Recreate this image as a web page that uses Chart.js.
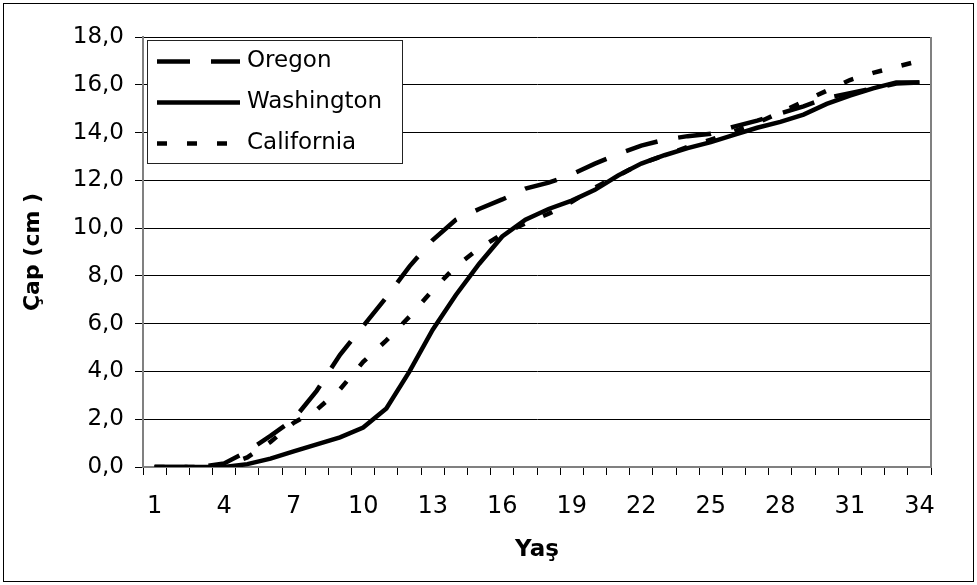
<!DOCTYPE html>
<html>
<head>
<meta charset="utf-8">
<script src="https://cdn.jsdelivr.net/npm/chart.js@4.4.1/dist/chart.umd.min.js"></script>
<style>
  body { margin: 0; background: #fff; }
  #kutu { width: 977px; height: 585px; }
</style>
</head>
<body>
<div id="kutu"><canvas id="grafik" width="977" height="585"></canvas></div>
<script>
// Yaş (x ekseni)
const yaslar = ['1','2','3','4','5','6','7','8','9','10','11','12','13','14','15','16','17',
  '18','19','20','21','22','23','24','25','26','27','28','29','30','31','32','33','34'];

// Çap (cm)
const oregon = [0, 0, 0, 0.15, 0.65, 1.3, 2.0, 3.2, 4.7, 5.9, 7.1, 8.4, 9.5, 10.35, 10.8, 11.2, 11.65,
  11.9, 12.25, 12.7, 13.1, 13.45, 13.7, 13.85, 13.95, 14.25, 14.5, 14.8, 15.1, 15.45, 15.65, 15.85, 16.05, 16.1];
const washington = [0, 0, 0, 0, 0.12, 0.35, 0.65, 0.95, 1.24, 1.65, 2.45, 4.0, 5.75, 7.2, 8.5, 9.65, 10.35,
  10.8, 11.15, 11.6, 12.2, 12.7, 13.05, 13.35, 13.6, 13.9, 14.2, 14.45, 14.75, 15.2, 15.55, 15.85, 16.1, 16.1];
const california = [0, 0, 0, 0.05, 0.4, 1.05, 1.85, 2.4, 3.25, 4.4, 5.3, 6.3, 7.4, 8.4, 9.15, 9.75, 10.2,
  10.6, 11.1, 11.7, 12.2, 12.7, 13.05, 13.4, 13.7, 14.05, 14.4, 14.85, 15.3, 15.75, 16.2, 16.5, 16.75, 17.0];

const yazi = '"DejaVu Sans", sans-serif';
Chart.defaults.font.family = yazi;
Chart.defaults.color = '#000';

// arka plan, dış çerçeve, sağ kenar ve lejant
const cerceve = {
  id: 'cerceve',
  beforeDraw(chart) {
    const c = chart.ctx;
    c.save();
    c.fillStyle = '#fff';
    c.fillRect(0, 0, chart.width, chart.height);
    c.strokeStyle = '#000';
    c.lineWidth = 1;
    c.strokeRect(3.5, 3.5, chart.width - 7, chart.height - 7);
    c.restore();
  },
  afterDraw(chart) {
    const a = chart.chartArea;
    const c = chart.ctx;
    c.save();
    c.strokeStyle = '#808080';
    c.lineWidth = 2;
    c.beginPath();
    c.moveTo(a.right, a.top);
    c.lineTo(a.right, a.bottom);
    c.stroke();

    const x = a.left + 4, y = a.top + 3, w = 255, h = 123;
    c.fillStyle = '#fff';
    c.fillRect(x, y, w, h);
    c.strokeStyle = '#222';
    c.lineWidth = 1;
    c.strokeRect(x + 0.5, y + 0.5, w, h);
    chart.data.datasets.forEach((ds, i) => {
      const ly = y + 21.5 + i * 41;
      c.setLineDash(ds.borderDash || []);
      c.lineWidth = ds.borderWidth;
      c.strokeStyle = ds.borderColor;
      c.beginPath();
      c.moveTo(x + 10, ly);
      c.lineTo(x + 93, ly);
      c.stroke();
      c.setLineDash([]);
      c.fillStyle = '#000';
      c.font = '23px ' + yazi;
      c.textBaseline = 'middle';
      c.textAlign = 'left';
      c.fillText(ds.label, x + 100, ly);
    });
    c.restore();
  }
};

function seri(label, data, dash, order) {
  return {
    label: label,
    data: data,
    borderColor: '#000',
    backgroundColor: '#000',
    borderWidth: 4.5,
    borderDash: dash,
    borderCapStyle: 'butt',
    pointRadius: 0,
    tension: 0,
    fill: false,
    order: order
  };
}

new Chart(document.getElementById('grafik').getContext('2d'), {
  type: 'line',
  data: {
    labels: yaslar,
    datasets: [
      seri('Oregon', oregon, [33, 21], 3),
      seri('Washington', washington, [], 2),
      seri('California', california, [10, 20], 1)
    ]
  },
  options: {
    responsive: false,
    animation: false,
    layout: { padding: { left: 0, top: 37, right: 46, bottom: 0 } },
    plugins: {
      legend: { display: false },
      tooltip: { enabled: false }
    },
    scales: {
      x: {
        offset: true,
        afterFit(s) { s.height = 118; },
        grid: { display: true, offset: true, drawOnChartArea: false, drawTicks: true, tickLength: 8, color: '#000', lineWidth: 1 },
        border: { display: true, color: '#808080', width: 2 },
        ticks: {
          autoSkip: false,
          maxRotation: 0,
          padding: 17,
          font: { size: 24 },
          callback: (v, i) => (i % 3 === 0 ? yaslar[i] : '')
        },
        title: { display: true, text: 'Yaş', font: { size: 23, weight: 'bold' }, padding: { top: 0, bottom: 21 } }
      },
      y: {
        min: 0,
        max: 18,
        afterFit(s) { s.width = 143; },
        grid: { color: '#000', lineWidth: 1, tickLength: 8, drawTicks: true },
        border: { display: true, color: '#808080', width: 2 },
        ticks: {
          stepSize: 2,
          padding: 11,
          font: { size: 23 },
          callback: v => v.toFixed(1).replace('.', ',')
        },
        title: { display: true, text: 'Çap (cm )', font: { size: 22, weight: 'bold' }, padding: { top: 20, bottom: 0 } }
      }
    }
  },
  plugins: [cerceve]
});
</script>
</body>
</html>
